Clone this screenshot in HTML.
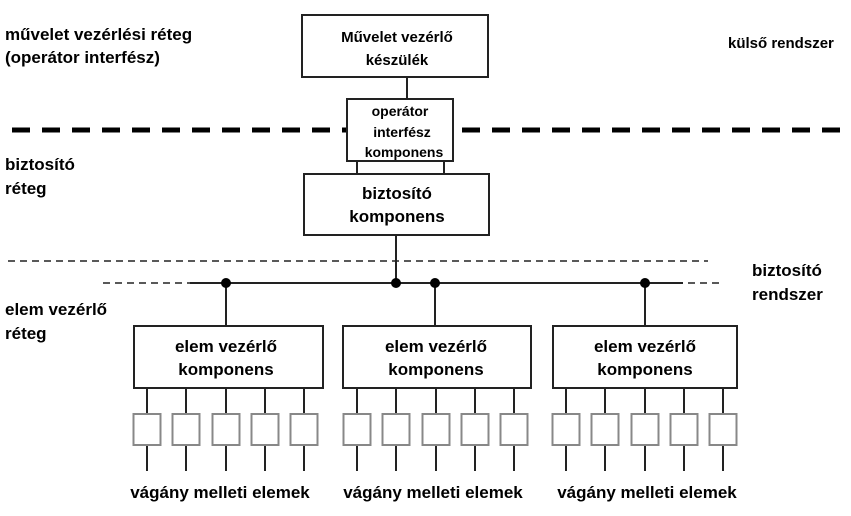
<!DOCTYPE html>
<html><head><meta charset="utf-8"><style>
body{margin:0;background:#fff;}
svg text{font-family:"Liberation Sans",sans-serif;font-weight:bold;fill:#000;}
</style></head><body>
<svg width="851" height="511" viewBox="0 0 851 511" xmlns="http://www.w3.org/2000/svg">
<g stroke="#222" fill="none" stroke-width="2">
<rect x="302" y="15" width="186" height="62" fill="#fff"/>
<line x1="407" y1="77" x2="407" y2="99"/>
<line x1="12" y1="130" x2="842" y2="130" stroke="#000" stroke-width="5" stroke-dasharray="18 12"/>
<rect x="347" y="99" width="106" height="62" fill="#fff"/>
<line x1="357" y1="161" x2="357" y2="174"/>
<line x1="444" y1="161" x2="444" y2="174"/>
<rect x="304" y="174" width="185" height="61" fill="#fff"/>
<line x1="396" y1="235" x2="396" y2="283"/>
<line x1="8" y1="261" x2="708" y2="261" stroke-width="1.5" stroke-dasharray="7 5"/>
<line x1="103" y1="283" x2="190" y2="283" stroke-width="1.5" stroke-dasharray="7 5"/>
<line x1="190" y1="283" x2="683" y2="283"/>
<line x1="688" y1="283" x2="722" y2="283" stroke-width="1.5" stroke-dasharray="7 5"/>
<line x1="226" y1="283" x2="226" y2="326"/>
<line x1="435" y1="283" x2="435" y2="326"/>
<line x1="645" y1="283" x2="645" y2="326"/>
<rect x="134" y="326" width="189" height="62" fill="#fff"/>
<rect x="343" y="326" width="188" height="62" fill="#fff"/>
<rect x="553" y="326" width="184" height="62" fill="#fff"/>
</g>
<g fill="#000"><circle cx="226" cy="283" r="5"/><circle cx="396" cy="283" r="5"/><circle cx="435" cy="283" r="5"/><circle cx="645" cy="283" r="5"/></g>
<g id="grp" stroke="#222" stroke-width="2">
<line x1="147" y1="388" x2="147" y2="471"/><line x1="186" y1="388" x2="186" y2="471"/><line x1="226" y1="388" x2="226" y2="471"/><line x1="265" y1="388" x2="265" y2="471"/><line x1="304" y1="388" x2="304" y2="471"/>
<g fill="#fff" stroke="#888"><rect x="133.5" y="414" width="27" height="31"/><rect x="172.5" y="414" width="27" height="31"/><rect x="212.5" y="414" width="27" height="31"/><rect x="251.5" y="414" width="27" height="31"/><rect x="290.5" y="414" width="27" height="31"/></g>
</g>
<use href="#grp" x="210"/>
<use href="#grp" x="419"/>
<text x="397" y="42" font-size="15" text-anchor="middle">Művelet vezérlő</text>
<text x="397" y="65" font-size="15" text-anchor="middle">készülék</text>
<text x="400" y="116" font-size="14" text-anchor="middle">operátor</text>
<text x="402" y="137" font-size="14" text-anchor="middle">interfész</text>
<text x="404" y="157" font-size="14" text-anchor="middle">komponens</text>
<text x="397" y="199" font-size="17" text-anchor="middle">biztosító</text>
<text x="397" y="222" font-size="17" text-anchor="middle">komponens</text>
<text x="226" y="352" font-size="17" text-anchor="middle">elem vezérlő</text>
<text x="226" y="375" font-size="17" text-anchor="middle">komponens</text>
<text x="436" y="352" font-size="17" text-anchor="middle">elem vezérlő</text>
<text x="436" y="375" font-size="17" text-anchor="middle">komponens</text>
<text x="645" y="352" font-size="17" text-anchor="middle">elem vezérlő</text>
<text x="645" y="375" font-size="17" text-anchor="middle">komponens</text>
<text x="5" y="40" font-size="17">művelet vezérlési réteg</text>
<text x="5" y="63" font-size="17">(operátor interfész)</text>
<text x="728" y="48" font-size="15">külső rendszer</text>
<text x="5" y="170" font-size="17">biztosító</text>
<text x="5" y="194" font-size="17">réteg</text>
<text x="5" y="315" font-size="17">elem vezérlő</text>
<text x="5" y="339" font-size="17">réteg</text>
<text x="752" y="276" font-size="17">biztosító</text>
<text x="752" y="300" font-size="17">rendszer</text>
<text x="220" y="498" font-size="17" text-anchor="middle">vágány melleti elemek</text>
<text x="433" y="498" font-size="17" text-anchor="middle">vágány melleti elemek</text>
<text x="647" y="498" font-size="17" text-anchor="middle">vágány melleti elemek</text>
</svg>
</body></html>
